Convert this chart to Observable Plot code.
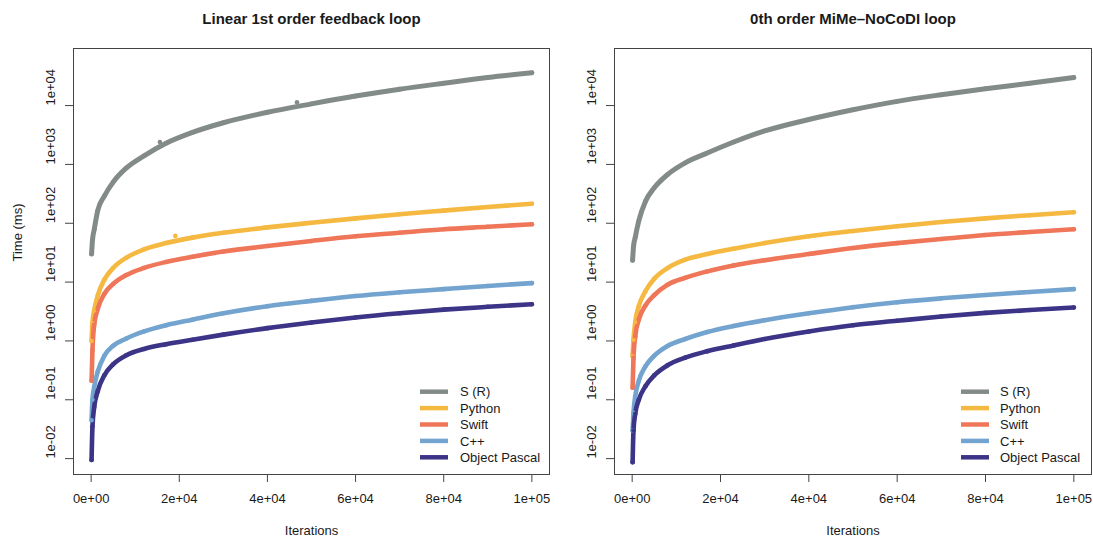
<!DOCTYPE html>
<html>
<head>
<meta charset="utf-8">
<script src="https://cdn.jsdelivr.net/npm/d3@7"></script>
<script src="https://cdn.jsdelivr.net/npm/@observablehq/plot@0.6"></script>
<style>
  html, body { margin: 0; padding: 0; background: #fff; }
  #wrap { display: flex; width: 1093px; height: 541px; }
</style>
</head>
<body>
<div id="wrap"></div>
<script>
// ---------- data ----------
const seriesNames = ["S (R)", "Python", "Swift", "C++", "Object Pascal"];
const seriesColors = ["#838b88", "#f5b941", "#ef7659", "#72a4cf", "#3c3486"];
const iterations = [100, 300, 700, 1500, 3000, 5000, 8000, 12000, 17000, 23000, 30000, 40000, 50000, 60000, 70000, 80000, 90000, 100000];

// Left panel: Linear 1st order feedback loop
const sR_L  = [30, 51, 78, 165, 290, 500, 870, 1400, 2290, 3500, 5100, 7700, 10700, 14500, 19000, 24000, 30000, 36000];
const py_L  = [1.0, 2.0, 3.3, 5.9, 11, 17.4, 26, 36, 46, 57, 69, 85, 102, 121, 142, 164, 189, 215];
const sw_L  = [0.21, 0.69, 1.9, 3.5, 6.3, 9.3, 13.2, 17.4, 22, 27, 33, 41, 50, 60, 69, 79, 87, 96];
const cpp_L = [0.045, 0.10, 0.166, 0.30, 0.56, 0.83, 1.1, 1.45, 1.85, 2.3, 2.95, 3.9, 4.8, 5.8, 6.7, 7.6, 8.6, 9.6];
const op_L  = [0.0095, 0.035, 0.075, 0.14, 0.26, 0.40, 0.57, 0.73, 0.88, 1.05, 1.28, 1.65, 2.05, 2.5, 2.95, 3.4, 3.8, 4.2];
const outlierX_L = [15600, 46700, 19100];
const outlierY_L = [2400, 11400, 61];
const outlierS_L = ["S (R)", "S (R)", "Python"];

// Right panel: 0th order MiMe–NoCoDI loop
const sR_R  = [23.5, 40, 58, 110, 235, 400, 670, 1060, 1560, 2400, 3700, 5800, 8500, 11800, 15300, 19300, 24000, 30000];
const py_R  = [0.55, 1.05, 2.1, 3.9, 7.0, 11.4, 17.3, 24, 30, 37, 46, 60, 74, 89, 105, 121, 137, 154];
const sw_R  = [0.16, 0.52, 1.2, 2.3, 4.0, 6.0, 9.0, 11.8, 15.2, 19.2, 23.5, 30, 38, 46, 54, 63, 71, 79];
const cpp_R = [0.03, 0.06, 0.115, 0.21, 0.37, 0.56, 0.82, 1.08, 1.42, 1.8, 2.25, 2.95, 3.75, 4.55, 5.3, 6.05, 6.8, 7.6];
const op_R  = [0.0087, 0.03, 0.058, 0.10, 0.17, 0.26, 0.385, 0.52, 0.67, 0.84, 1.08, 1.45, 1.85, 2.2, 2.6, 3.0, 3.35, 3.7];

const xTicks = [0, 20000, 40000, 60000, 80000, 100000];
const yTicks = [1e-2, 1e-1, 1e0, 1e1, 1e2, 1e3, 1e4];

// ---------- helpers ----------
function fmtE(v) {
  if (v === 0) return "0e+00";
  const e = Math.floor(Math.log10(v) + 1e-9);
  const m = Math.round(v / Math.pow(10, e));
  return m + "e" + (e < 0 ? "-" : "+") + String(Math.abs(e)).padStart(2, "0");
}

function toRows(seriesValues) {
  const rows = [];
  seriesValues.forEach((vals, si) => {
    vals.forEach((v, i) => rows.push({x: iterations[i], y: v, name: seriesNames[si]}));
  });
  return rows;
}

function legendMark(dxLine1, dxLine2, dxText) {
  return (index, scales, values, dims) => {
    const g = d3.create("svg:g");
    const right = dims.width - dims.marginRight;
    const bottom = dims.height - dims.marginBottom;
    const n = seriesNames.length;
    seriesNames.forEach((name, i) => {
      const y = bottom - 16.7 - (n - 1 - i) * 16.4;
      g.append("line")
        .attr("x1", right + dxLine1).attr("x2", right + dxLine2)
        .attr("y1", y).attr("y2", y)
        .attr("stroke", seriesColors[i]).attr("stroke-width", 4.5);
      g.append("text")
        .attr("x", right + dxText).attr("y", y).attr("dy", "0.36em")
        .attr("text-anchor", "start")
        .attr("fill", "#1a1a1a").attr("font-size", 13)
        .text(name);
    });
    return g.node();
  };
}

function panel(opts) {
  const rows = toRows(opts.series);
  const outliers = (opts.outX || []).map((x, i) => ({x, y: opts.outY[i], name: opts.outS[i]}));
  const marks = [
    Plot.frame({stroke: "#444"}),
    Plot.axisX(xTicks, {tickSize: 8, tickPadding: 11, tickFormat: fmtE, label: null, stroke: "#444", fill: "#1a1a1a", fontSize: 13}),
    Plot.axisY(yTicks, {tickSize: 8, tickFormat: () => "", label: null, stroke: "#444"}),
    Plot.text(yTicks, {y: d => d, text: fmtE, frameAnchor: "left", dx: -23, rotate: -90, fill: "#1a1a1a", fontSize: 13}),
    Plot.text([opts.title], {frameAnchor: "top", dy: -35, fontWeight: "bold", fontSize: 15, fill: "#1a1a1a"}),
    Plot.text(["Iterations"], {frameAnchor: "bottom", dy: 60, fontSize: 13, fill: "#1a1a1a"}),
    Plot.line(rows, {x: "x", y: "y", z: "name", stroke: "name", strokeWidth: d => d.name === "S (R)" ? 5 : 4.6, curve: "monotone-x", strokeLinecap: "round", strokeLinejoin: "round"}),
    Plot.dot(rows, {x: "x", y: "y", fill: "name", r: 2.3}),
    Plot.dot(outliers, {x: "x", y: "y", fill: "name", r: 2.3}),
    legendMark(opts.leg[0], opts.leg[1], opts.leg[2])
  ];
  if (opts.yLabel) {
    marks.push(Plot.text([opts.yLabel], {frameAnchor: "left", dx: -56, rotate: -90, fontSize: 13, fill: "#1a1a1a"}));
  }
  return Plot.plot({
    width: opts.width,
    height: 541,
    marginLeft: opts.marginLeft,
    marginRight: opts.marginRight,
    marginTop: 48,
    marginBottom: 67,
    style: {fontFamily: "'Liberation Sans', Arial, Helvetica, sans-serif", fontSize: "13px", background: "#fff", color: "#1a1a1a"},
    x: {domain: [-4000, 104000]},
    y: {type: "log", domain: [Math.pow(10, -2.27), Math.pow(10, 4.97)]},
    color: {domain: seriesNames, range: seriesColors},
    marks
  });
}

const left = panel({
  title: "Linear 1st order feedback loop",
  series: [sR_L, py_L, sw_L, cpp_L, op_L],
  outX: outlierX_L, outY: outlierY_L, outS: outlierS_L,
  yLabel: "Time (ms)",
  width: 552, marginLeft: 73, marginRight: 3,
  leg: [-129, -101, -89]
});
const right = panel({
  title: "0th order MiMe\u2013NoCoDI loop",
  series: [sR_R, py_R, sw_R, cpp_R, op_R],
  yLabel: null,
  width: 541, marginLeft: 62, marginRight: 2,
  leg: [-130, -102, -91]
});
document.getElementById("wrap").append(left, right);
</script>
</body>
</html>
